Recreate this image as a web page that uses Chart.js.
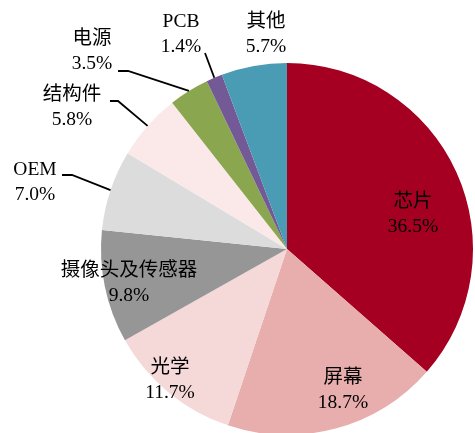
<!DOCTYPE html>
<html>
<head>
<meta charset="utf-8">
<script src="https://cdn.jsdelivr.net/npm/chart.js@4.4.1/dist/chart.umd.min.js"></script>
<style>
  html, body { margin: 0; padding: 0; background: #fff; overflow: hidden; }
  #wrap { width: 475px; height: 440px; }
</style>
</head>
<body>
<div id="wrap"><canvas id="pie"></canvas></div>
<script>
// Data
const categories = ['芯片', '屏幕', '光学', '摄像头及传感器', 'OEM', '结构件', '电源', 'PCB', '其他'];
const shares = [36.5, 18.7, 11.7, 9.8, 7.0, 5.8, 3.5, 1.4, 5.7];
const valueLabels = ['36.5%', '18.7%', '11.7%', '9.8%', '7.0%', '5.8%', '3.5%', '1.4%', '5.7%'];
const sliceColors = ['#A50021', '#E8ADAD', '#F5D8D8', '#969696', '#DCDCDC', '#FBE9E9', '#8AA74F', '#735A97', '#4A9BB4'];

// Label layout: offset of the label centre from the pie centre (px)
const labelOffsets = [[126, -35], [56, 141], [-117, 131], [-158, 34], [-252, -67], [-215, -142], [-195, -198], [-106, -215], [-21, -215]];
// Leader lines: start point and elbow, offset from the pie centre (null = no line)
const leaderLines = [null, null, null, null,
  [[-225, -74], [-215, -74]],
  [[-177, -148], [-169, -148]],
  [[-169, -178], [-159, -178]],
  [[-82, -196], [-82, -196]],
  null];

const FONT = '19.5px "Liberation Serif", "Noto Sans CJK SC", serif';

const labelPlugin = {
  id: 'sliceLabels',
  afterDatasetsDraw(chart) {
    const ctx = chart.ctx;
    const arcs = chart.getDatasetMeta(0).data;
    ctx.save();
    arcs.forEach((arc, i) => {
      const cx = arc.x, cy = arc.y;
      const line = leaderLines[i];
      if (line) {
        // end the leader on the slice edge, at its middle angle
        const mid = (arc.startAngle + arc.endAngle) / 2;
        const ex = cx + Math.cos(mid) * arc.outerRadius;
        const ey = cy + Math.sin(mid) * arc.outerRadius;
        ctx.beginPath();
        ctx.moveTo(cx + line[0][0], cy + line[0][1]);
        ctx.lineTo(cx + line[1][0], cy + line[1][1]);
        ctx.lineTo(ex, ey);
        ctx.strokeStyle = '#000';
        ctx.lineWidth = 1.8;
        ctx.stroke();
      }
      const lx = cx + labelOffsets[i][0];
      const ly = cy + labelOffsets[i][1];
      ctx.font = FONT;
      ctx.fillStyle = '#000';
      ctx.textAlign = 'center';
      ctx.textBaseline = 'middle';
      ctx.fillText(categories[i], lx, ly - 12.5);
      ctx.fillText(valueLabels[i], lx, ly + 12.5);
    });
    ctx.restore();
  }
};

new Chart(document.getElementById('pie'), {
  type: 'pie',
  data: {
    labels: categories,
    datasets: [{
      data: shares,
      backgroundColor: sliceColors,
      borderWidth: 0
    }]
  },
  options: {
    responsive: true,
    maintainAspectRatio: false,
    animation: false,
    layout: { padding: { left: 101, top: 63, right: 2, bottom: 5 } },
    plugins: {
      legend: { display: false },
      tooltip: { enabled: false }
    }
  },
  plugins: [labelPlugin]
});
</script>
</body>
</html>
